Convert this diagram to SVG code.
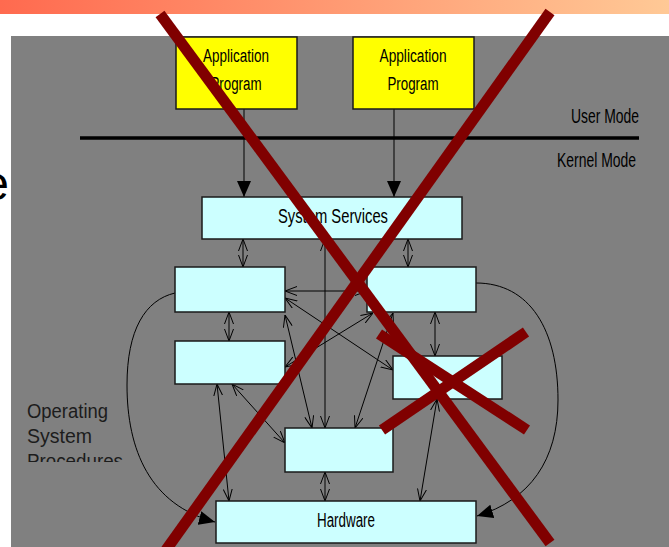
<svg xmlns="http://www.w3.org/2000/svg" width="669" height="547" viewBox="0 0 669 547">
  <defs>
    <linearGradient id="banner" x1="0" y1="0" x2="1" y2="0">
      <stop offset="0" stop-color="#ff6a4f"/>
      <stop offset="1" stop-color="#ffc996"/>
    </linearGradient>
    <marker id="open" viewBox="0 0 12 10" refX="12" refY="5" markerWidth="12" markerHeight="10" markerUnits="userSpaceOnUse" orient="auto-start-reverse">
      <path d="M0,0.5 L12,5 L0,9.5" fill="none" stroke="#000" stroke-width="1"/>
    </marker>
    <marker id="solid" viewBox="0 0 16 14" refX="16" refY="7" markerWidth="16" markerHeight="14" markerUnits="userSpaceOnUse" orient="auto">
      <path d="M0,0 L16,7 L0,14 Z" fill="#000"/>
    </marker>
    <clipPath id="procClip">
      <rect x="11" y="380" width="200" height="82"/>
    </clipPath>
    <style>
      .app { fill: #ffff00; stroke: #1a1a1a; stroke-width: 1.5; }
      .proc { fill: #ccffff; stroke: #1a1a1a; stroke-width: 1.5; }
      .lbl { font-family: "Liberation Sans Narrow", "Liberation Sans", Arial, sans-serif; fill: #000; }
      .side { font-family: "Liberation Sans", Arial, sans-serif; fill: #1c1c1c; font-size: 20px; }
      .link { fill: none; stroke: #000; stroke-width: 1; }
      .both { marker-start: url(#open); marker-end: url(#open); }
      .cross { stroke: #800000; stroke-width: 11; stroke-linecap: butt; }
    </style>
  </defs>

  <!-- slide header and backdrop -->
  <rect x="0" y="0" width="669" height="547" fill="#ffffff"/>
  <rect x="0" y="0" width="669" height="14" fill="url(#banner)"/>
  <text x="9" y="200" text-anchor="end" font-family="Liberation Sans, Arial, sans-serif" font-size="48" fill="#000">e</text>
  <rect x="11" y="36" width="658" height="511" fill="#808080"/>

  <!-- user / kernel boundary -->
  <line x1="80" y1="138" x2="639" y2="138" stroke="#000" stroke-width="3.5"/>
  <text class="lbl" x="639" y="123" text-anchor="end" font-size="20" textLength="68" lengthAdjust="spacingAndGlyphs">User Mode</text>
  <text class="lbl" x="636" y="167" text-anchor="end" font-size="20" textLength="79" lengthAdjust="spacingAndGlyphs">Kernel Mode</text>

  <!-- side caption -->
  <g clip-path="url(#procClip)">
    <text class="side" x="27" y="418" textLength="81" lengthAdjust="spacingAndGlyphs">Operating</text>
    <text class="side" x="27" y="443" textLength="65" lengthAdjust="spacingAndGlyphs">System</text>
    <text class="side" x="27" y="468" textLength="96" lengthAdjust="spacingAndGlyphs">Procedures</text>
  </g>

  <!-- connectors -->
  <g id="connectors">
    <line class="link" x1="244" y1="109" x2="244" y2="197" marker-end="url(#solid)"/>
    <line class="link" x1="394" y1="109" x2="394" y2="197" marker-end="url(#solid)"/>
    <line class="link both" x1="243" y1="239" x2="243" y2="267"/>
    <line class="link both" x1="408" y1="239" x2="408" y2="267"/>
    <line class="link both" x1="229" y1="312" x2="229" y2="341"/>
    <line class="link both" x1="435" y1="312" x2="435" y2="356"/>
    <line class="link both" x1="325" y1="239" x2="325" y2="428"/>
    <line class="link both" x1="367" y1="291" x2="285" y2="291"/>
    <line class="link both" x1="285" y1="298" x2="393" y2="370"/>
    <line class="link both" x1="285" y1="367" x2="373" y2="313"/>
    <line class="link both" x1="285" y1="315" x2="312" y2="428"/>
    <line class="link both" x1="393" y1="313" x2="355" y2="428"/>
    <line class="link both" x1="232" y1="384" x2="285" y2="443"/>
    <line class="link both" x1="217" y1="384" x2="229" y2="501"/>
    <line class="link both" x1="325" y1="472" x2="325" y2="501"/>
    <line class="link both" x1="437" y1="399" x2="420" y2="501"/>
    <path class="link" d="M476,283 C530,283 558,330 558,400 C558,460 530,500 477,516" marker-end="url(#solid)"/>
    <path class="link" d="M175,293 C145,300 127,330 127,385 C127,450 150,505 215,522" marker-end="url(#solid)"/>
  </g>

  <!-- application programs -->
  <g id="app1">
    <rect class="app" x="176" y="37" width="121" height="72"/>
    <text class="lbl" x="236" y="62" text-anchor="middle" font-size="18" textLength="66" lengthAdjust="spacingAndGlyphs">Application</text>
    <text class="lbl" x="236" y="90" text-anchor="middle" font-size="18" textLength="51" lengthAdjust="spacingAndGlyphs">Program</text>
  </g>
  <g id="app2">
    <rect class="app" x="353" y="37" width="121" height="72"/>
    <text class="lbl" x="413" y="62" text-anchor="middle" font-size="18" textLength="67" lengthAdjust="spacingAndGlyphs">Application</text>
    <text class="lbl" x="413" y="90" text-anchor="middle" font-size="18" textLength="51" lengthAdjust="spacingAndGlyphs">Program</text>
  </g>

  <!-- kernel components -->
  <g id="system-services">
    <rect class="proc" x="202" y="197" width="260" height="42"/>
    <text class="lbl" x="333" y="223" text-anchor="middle" font-size="20" textLength="110" lengthAdjust="spacingAndGlyphs">System Services</text>
  </g>
  <g id="proc-left-1"><rect class="proc" x="175" y="267" width="110" height="45"/></g>
  <g id="proc-left-2"><rect class="proc" x="175" y="341" width="110" height="43"/></g>
  <g id="proc-right-1"><rect class="proc" x="367" y="267" width="109" height="45"/></g>
  <g id="proc-right-2"><rect class="proc" x="393" y="356" width="109" height="43"/></g>
  <g id="proc-middle"><rect class="proc" x="285" y="428" width="108" height="44"/></g>
  <g id="hardware">
    <rect class="proc" x="216" y="501" width="260" height="42"/>
    <text class="lbl" x="346" y="527" text-anchor="middle" font-size="20" textLength="58" lengthAdjust="spacingAndGlyphs">Hardware</text>
  </g>

  <!-- strike-through marks -->
  <g id="strike">
    <line class="cross" x1="160" y1="14" x2="550" y2="543"/>
    <line class="cross" x1="550" y1="12" x2="166" y2="550"/>
    <line class="cross" x1="379" y1="334" x2="527" y2="430"/>
    <line class="cross" x1="382" y1="430" x2="526" y2="332"/>
  </g>
</svg>
